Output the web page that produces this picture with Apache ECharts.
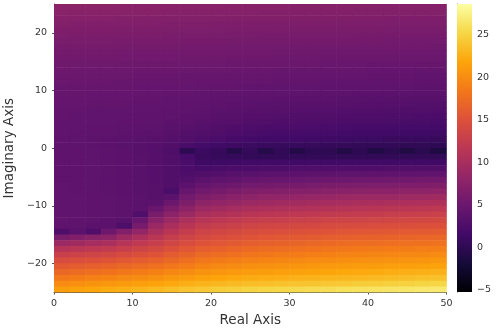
<!DOCTYPE html>
<html>
<head>
<meta charset="utf-8">
<script src="https://cdn.jsdelivr.net/npm/echarts@6.0.0/dist/echarts.min.js"></script>
<style>
  html, body { margin: 0; padding: 0; background: #ffffff; }
  #chart { width: 501px; height: 334px; }
</style>
</head>
<body>
<div id="chart"></div>
<script>
// Cell centres of the sampled grid (real part: 2-unit columns, imaginary part: 1-unit rows, top to bottom)
const realCenters = [1, 3, 5, 7, 9, 11, 13, 15, 17, 19, 21, 23, 25, 27, 29, 31, 33, 35, 37, 39, 41, 43, 45, 47, 49];
const imagCenters = [24.5, 23.5, 22.5, 21.5, 20.5, 19.5, 18.5, 17.5, 16.5, 15.5, 14.5, 13.5, 12.5, 11.5, 10.5, 9.5, 8.5, 7.5, 6.5, 5.5, 4.5, 3.5, 2.5, 1.5, 0.5,
                     -0.5, -1.5, -2.5, -3.5, -4.5, -5.5, -6.5, -7.5, -8.5, -9.5, -10.5, -11.5, -12.5, -13.5, -14.5, -15.5, -16.5, -17.5, -18.5, -19.5, -20.5, -21.5, -22.5, -23.5, -24.5];

// log-magnitude values, one row per imaginary centre, one column per real centre
const magnitude = [
  [7.6,7.6,7.6,7.6,7.5,7.5,7.5, 7.5,7.4,7.4,7.4,7.3,7.3, 7.3,7.3,7.2,7.2,7.2,7.2, 7.2,7.2,7.1,7.1,7.1,7.1],
  [7.4,7.3,7.3,7.3,7.3,7.3,7.3, 7.2,7.2,7.2,7.1,7.1,7.1, 7.0,7.0,7.0,7.0,7.0,7.0, 6.9,6.9,6.9,6.9,6.9,6.9],
  [7.1,7.1,7.1,7.1,7.0,7.0,7.0, 7.0,6.9,6.9,6.9,6.8,6.8, 6.8,6.8,6.7,6.7,6.7,6.7, 6.7,6.7,6.6,6.6,6.6,6.6],
  [6.9,6.8,6.8,6.8,6.8,6.8,6.8, 6.7,6.7,6.7,6.6,6.6,6.6, 6.5,6.5,6.5,6.5,6.5,6.5, 6.4,6.4,6.4,6.4,6.4,6.4],
  [6.6,6.6,6.6,6.6,6.5,6.5,6.5, 6.5,6.4,6.4,6.4,6.3,6.3, 6.3,6.3,6.2,6.2,6.2,6.2, 6.2,6.2,6.1,6.1,6.1,6.1],
  [6.4,6.3,6.3,6.3,6.3,6.3,6.3, 6.2,6.2,6.2,6.1,6.1,6.1, 6.0,6.0,6.0,6.0,6.0,6.0, 5.9,5.9,5.9,5.9,5.9,5.9],
  [6.1,6.1,6.1,6.1,6.0,6.0,6.0, 6.0,5.9,5.9,5.9,5.8,5.8, 5.8,5.8,5.7,5.7,5.7,5.7, 5.7,5.7,5.6,5.6,5.6,5.6],
  [5.9,5.9,5.9,5.9,5.8,5.8,5.8, 5.8,5.7,5.7,5.7,5.6,5.6, 5.6,5.6,5.5,5.5,5.5,5.5, 5.4,5.4,5.4,5.4,5.4,5.3],
  [5.7,5.7,5.7,5.7,5.6,5.6,5.6, 5.6,5.5,5.5,5.5,5.4,5.4, 5.4,5.3,5.3,5.3,5.2,5.2, 5.2,5.2,5.2,5.1,5.1,5.1],
  [5.5,5.5,5.5,5.5,5.4,5.4,5.4, 5.4,5.3,5.3,5.3,5.2,5.2, 5.2,5.1,5.1,5.1,5.0,5.0, 5.0,5.0,4.9,4.9,4.9,4.9],
  [5.3,5.3,5.3,5.3,5.2,5.2,5.2, 5.2,5.1,5.1,5.1,5.0,5.0, 5.0,4.9,4.9,4.9,4.8,4.8, 4.8,4.7,4.7,4.7,4.6,4.6],
  [5.2,5.1,5.1,5.1,5.1,5.0,5.0, 5.0,4.9,4.9,4.9,4.8,4.8, 4.8,4.7,4.7,4.7,4.6,4.6, 4.6,4.5,4.5,4.5,4.4,4.4],
  [5.0,5.0,4.9,4.9,4.9,4.8,4.8, 4.8,4.7,4.7,4.7,4.6,4.6, 4.6,4.5,4.5,4.5,4.4,4.4, 4.4,4.3,4.3,4.3,4.2,4.2],
  [4.9,4.8,4.8,4.8,4.7,4.7,4.7, 4.6,4.6,4.5,4.5,4.4,4.4, 4.4,4.3,4.3,4.3,4.2,4.2, 4.2,4.1,4.1,4.1,4.0,4.0],
  [4.7,4.7,4.6,4.6,4.6,4.5,4.5, 4.5,4.4,4.4,4.3,4.3,4.2, 4.2,4.2,4.1,4.1,4.0,4.0, 4.0,3.9,3.9,3.9,3.8,3.8],
  [4.6,4.6,4.5,4.5,4.5,4.4,4.4, 4.3,4.3,4.2,4.1,4.1,4.0, 4.0,3.9,3.9,3.8,3.8,3.8, 3.7,3.7,3.7,3.6,3.6,3.6],
  [4.5,4.5,4.4,4.4,4.4,4.3,4.3, 4.2,4.1,4.1,4.0,3.9,3.8, 3.8,3.7,3.7,3.6,3.6,3.5, 3.5,3.4,3.4,3.4,3.3,3.3],
  [4.4,4.4,4.3,4.3,4.3,4.2,4.2, 4.1,4.0,3.9,3.8,3.7,3.6, 3.5,3.5,3.4,3.4,3.3,3.3, 3.2,3.2,3.1,3.1,3.0,3.0],
  [4.3,4.3,4.2,4.2,4.2,4.1,4.1, 4.0,3.9,3.8,3.6,3.5,3.4, 3.3,3.3,3.2,3.1,3.1,3.0, 2.9,2.9,2.9,2.8,2.8,2.7],
  [4.3,4.2,4.2,4.1,4.1,4.0,4.0, 3.9,3.7,3.6,3.4,3.3,3.2, 3.1,3.0,2.9,2.9,2.8,2.7, 2.6,2.6,2.5,2.5,2.4,2.4],
  [4.2,4.2,4.1,4.1,4.0,4.0,3.9, 3.7,3.6,3.4,3.2,3.1,2.9, 2.8,2.7,2.7,2.6,2.5,2.4, 2.3,2.3,2.2,2.1,2.1,2.0],
  [4.2,4.1,4.0,4.0,3.9,3.8,3.8, 3.5,3.3,3.1,2.9,2.7,2.5, 2.4,2.3,2.3,2.2,2.1,2.0, 1.9,1.9,1.8,1.7,1.7,1.6],
  [4.1,4.0,3.9,3.9,3.8,3.7,3.6, 3.3,3.0,2.8,2.6,2.3,2.1, 2.0,1.9,1.9,1.8,1.7,1.6, 1.5,1.5,1.4,1.3,1.3,1.2],
  [4.0,3.9,3.8,3.7,3.6,3.5,3.4, 3.1,2.8,2.5,2.2,1.9,1.6, 1.5,1.4,1.4,1.3,1.2,1.1, 1.0,1.0,0.9,0.8,0.8,0.7],
  [4.0,3.9,3.8,3.7,3.5,3.4,3.2, 2.8,2.1,1.8,1.5,1.2,1.0, 0.9,0.8,0.8,0.7,0.6,0.5, 0.4,0.4,0.3,0.2,0.2,0.1],
  [4.0,4.0,3.9,3.8,3.6,3.4,3.1, 2.6,0.0,1.0,0.7,-0.6,0.5, -0.7,0.3,-0.8,0.1,0.0,-0.9, -0.1,-1.0,-0.2,-1.1,-0.3,-1.2],
  [4.0,4.0,3.9,3.8,3.7,3.5,3.2, 2.8,2.0,0.9,0.7,0.5,0.4, 0.4,0.4,0.3,0.3,0.3,0.3, 0.3,0.3,0.3,0.3,0.3,0.3],
  [4.0,4.0,3.9,3.8,3.7,3.5,3.2, 2.8,2.2,1.2,1.3,1.3,1.4, 1.4,1.4,1.4,1.5,1.5,1.5, 1.5,1.5,1.5,1.5,1.5,1.5],
  [4.0,4.0,3.9,3.8,3.7,3.5,3.2, 2.8,2.3,2.0,2.1,2.3,2.4, 2.5,2.5,2.6,2.6,2.7,2.7, 2.7,2.7,2.8,2.8,2.8,2.8],
  [4.0,4.0,3.9,3.8,3.7,3.5,3.2, 2.8,2.5,2.8,3.0,3.3,3.5, 3.6,3.6,3.7,3.8,3.8,3.9, 3.9,4.0,4.0,4.0,4.1,4.1],
  [4.0,4.0,3.9,3.8,3.7,3.5,3.2, 2.8,3.0,3.6,3.9,4.2,4.5, 4.6,4.7,4.8,4.9,5.0,5.1, 5.2,5.2,5.3,5.3,5.4,5.4],
  [4.1,4.0,3.9,3.8,3.7,3.5,3.3, 2.9,3.7,4.5,4.9,5.2,5.6, 5.7,5.8,5.9,6.1,6.2,6.3, 6.4,6.4,6.5,6.6,6.6,6.7],
  [4.1,4.0,3.9,3.8,3.7,3.5,3.3, 2.2,4.6,5.5,5.9,6.3,6.7, 6.8,7.0,7.1,7.2,7.4,7.5, 7.6,7.7,7.7,7.8,7.9,8.0],
  [4.1,4.1,4.0,3.9,3.8,3.6,3.4, 3.6,5.6,6.6,7.0,7.5,7.9, 8.1,8.2,8.4,8.5,8.7,8.8, 8.9,9.0,9.0,9.1,9.2,9.3],
  [4.1,4.1,4.0,3.9,3.8,3.6, 3.6,5.0,6.5,7.8, 8.2,8.6,9.0, 9.2,9.3,9.5,9.7,9.8,10.0, 10.1,10.2,10.3,10.4,10.5,10.6],
  [4.1,4.1,4.0,3.9,3.8,3.7, 4.8,6.3,7.7,9.0, 9.4,9.8,10.2, 10.4,10.5,10.7,10.9,11.0,11.2, 11.3,11.4,11.5,11.6,11.7,11.8],
  [4.1,4.1,4.0,3.9,3.8, 2.6, 6.2,7.7,9.0,10.2, 10.6,11.0,11.4, 11.6,11.7,11.9,12.0,12.2,12.3, 12.4,12.5,12.7,12.8,12.9,13.0],
  [4.1,4.0,3.9,3.7, 3.5,4.8, 7.5,9.0,10.3,11.3, 11.7,12.1,12.5, 12.7,12.8,13.0,13.1,13.3,13.4, 13.5,13.6,13.7,13.8,13.9,14.0],
  [4.0,3.9,3.7, 3.6,2.5,6.0, 8.8,10.2,11.4,12.3, 12.7,13.1,13.5, 13.7,13.8,14.0,14.1,14.3,14.4, 14.5,14.6,14.7,14.8,14.9,15.0],
  [2.6,3.6,2.7,5.2,6.8,8.3, 10.1,11.4,12.5,13.3, 13.7,14.0,14.4, 14.6,14.7,14.9,15.1,15.2,15.4, 15.5,15.6,15.7,15.8,15.9,16.0],
  [6.2,6.8,7.4,7.9,9.2,10.4, 11.5,12.6,13.5,14.2, 14.6,14.9,15.3, 15.5,15.7,15.9,16.0,16.2,16.4, 16.5,16.6,16.7,16.8,16.9,17.0],
  [9.0,9.4,9.8,10.2,11.1,12.0, 12.8,13.7,14.5,15.2, 15.5,15.9,16.2, 16.4,16.6,16.8,17.0,17.2,17.4, 17.5,17.6,17.7,17.8,17.9,18.0],
  [11.2,11.5,11.8,12.1,12.8,13.4, 14.0,14.8,15.5,16.2, 16.5,16.9,17.2, 17.4,17.6,17.8,18.0,18.2,18.4, 18.5,18.6,18.7,18.8,18.9,19.0],
  [12.9,13.2,13.5,13.8,14.3,14.8, 15.3,16.0,16.6,17.3, 17.6,17.9,18.2, 18.4,18.6,18.7,18.9,19.1,19.3, 19.4,19.5,19.6,19.7,19.8,19.9],
  [14.4,14.7,15.0,15.3,15.7,16.1, 16.5,17.1,17.7,18.3, 18.6,18.9,19.2, 19.4,19.5,19.7,19.9,20.0,20.2, 20.3,20.4,20.5,20.6,20.7,20.8],
  [15.8,16.1,16.4,16.7,17.1,17.4, 17.8,18.3,18.8,19.4, 19.7,19.9,20.2, 20.4,20.5,20.7,20.8,21.0,21.1, 21.2,21.3,21.4,21.5,21.6,21.7],
  [17.1,17.4,17.7,18.0,18.4,18.7, 19.1,19.6,20.0,20.5, 20.7,21.0,21.2, 21.3,21.5,21.6,21.7,21.9,22.0, 22.1,22.2,22.4,22.5,22.6,22.7],
  [18.5,18.8,19.1,19.4,19.7,20.0, 20.4,20.8,21.2,21.6, 21.8,22.1,22.3, 22.4,22.5,22.7,22.8,22.9,23.0, 23.1,23.3,23.4,23.5,23.7,23.8],
  [19.9,20.2,20.5,20.8,21.1,21.4, 21.7,22.1,22.5,22.8, 23.0,23.3,23.5, 23.6,23.8,23.9,24.0,24.2,24.3, 24.5,24.6,24.8,24.9,25.1,25.2],
  [21.3,21.6,21.9,22.2,22.5,22.8, 23.1,23.5,23.9,24.2, 24.5,24.7,25.0, 25.2,25.3,25.5,25.7,25.8,26.0, 26.1,26.3,26.4,26.5,26.7,26.8]
];

// Axis ticks and colour-scale limits
const realTicks = [0, 10, 20, 30, 40, 50];
const imagTicks = [-20, -10, 0, 10, 20];
const colorTicks = [-5, 0, 5, 10, 15, 20, 25];
const colorMin = -5.24;
const colorMax = 28.65;

// inferno colour map, low to high
const inferno = ['#000004', '#160b39', '#420a68', '#6a176e', '#932667', '#bc3754',
                 '#dd513a', '#f37819', '#fca50a', '#f6d746', '#fcffa4'];

const cells = [];
magnitude.forEach((row, i) => {
  row.forEach((v, j) => cells.push([realCenters[j], imagCenters[i], v]));
});
const cellW = realCenters[1] - realCenters[0];
const cellH = imagCenters[0] - imagCenters[1];

const minus = v => String(v).replace('-', '\u2212');
const textColor = '#333333';
const axisColor = '#555555';
const font = 'DejaVu Sans';

const chart = echarts.init(document.getElementById('chart'), null, { renderer: 'canvas' });
chart.setOption({
  animation: false,
  backgroundColor: '#ffffff',
  textStyle: { fontFamily: font },
  grid: [
    { left: 54, top: 4, width: 392.5, height: 288.5, outerBoundsMode: 'none', containLabel: false },
    { left: 457, top: 4, width: 15, height: 288, outerBoundsMode: 'none', containLabel: false }
  ],
  xAxis: [
    {
      gridIndex: 0, type: 'value', min: 0, max: 50,
      name: 'Real Axis', nameLocation: 'middle', nameGap: 19,
      nameTextStyle: { fontSize: 13.5, color: textColor, fontFamily: font },
      axisLine: { show: true, onZero: false, lineStyle: { color: axisColor, width: 1 } },
      axisTick: { show: true, inside: false, length: 2, customValues: realTicks, lineStyle: { color: axisColor } },
      axisLabel: { fontSize: 9.5, color: textColor, margin: 6, customValues: realTicks, fontFamily: font },
      splitLine: { show: false },
      splitArea: { show: false }
    },
    { gridIndex: 1, type: 'value', min: 0, max: 1, show: false }
  ],
  yAxis: [
    {
      gridIndex: 0, type: 'value', min: -25, max: 25,
      name: 'Imaginary Axis', nameLocation: 'middle', nameGap: 30,
      nameTextStyle: { fontSize: 13.5, color: textColor, fontFamily: font },
      axisLine: { show: true, onZero: false, lineStyle: { color: axisColor, width: 1 } },
      axisTick: { show: true, inside: false, length: 2, customValues: imagTicks, lineStyle: { color: axisColor } },
      axisLabel: { fontSize: 9.5, color: textColor, margin: 7, customValues: imagTicks, formatter: minus, fontFamily: font },
      splitLine: { show: false },
      splitArea: { show: false }
    },
    {
      gridIndex: 1, type: 'value', min: colorMin, max: colorMax, position: 'right',
      axisLine: { show: true, lineStyle: { color: axisColor, width: 1 } },
      axisTick: { show: true, inside: false, length: 3, customValues: colorTicks, lineStyle: { color: axisColor } },
      axisLabel: { fontSize: 9.5, color: textColor, margin: 5, customValues: colorTicks, formatter: minus, fontFamily: font },
      splitLine: { show: false }
    }
  ],
  visualMap: {
    type: 'continuous', show: false, seriesIndex: 0, dimension: 2,
    min: colorMin, max: colorMax, inRange: { color: inferno }
  },
  series: [
    {
      type: 'custom', xAxisIndex: 0, yAxisIndex: 0, clip: true, silent: true, z: 1,
      encode: { x: 0, y: 1 },
      data: cells,
      renderItem: (params, api) => {
        const x = api.value(0), y = api.value(1);
        const p0 = api.coord([x - cellW / 2, y + cellH / 2]);
        const p1 = api.coord([x + cellW / 2, y - cellH / 2]);
        return {
          type: 'rect',
          shape: { x: p0[0] - 0.3, y: p0[1] - 0.3, width: p1[0] - p0[0] + 0.6, height: p1[1] - p0[1] + 0.6 },
          style: { fill: api.visual('color'), stroke: null }
        };
      }
    },
    {
      type: 'custom', xAxisIndex: 1, yAxisIndex: 1, silent: true, z: 1,
      data: [[0, colorMin, 1, colorMax]],
      renderItem: (params, api) => {
        const p0 = api.coord([api.value(0), api.value(3)]);
        const p1 = api.coord([api.value(2), api.value(1)]);
        const stops = inferno.map((c, i) => ({ offset: 1 - i / (inferno.length - 1), color: c })).reverse();
        return {
          type: 'rect',
          shape: { x: p0[0], y: p0[1], width: p1[0] - p0[0], height: p1[1] - p0[1] },
          style: { fill: new echarts.graphic.LinearGradient(0, 0, 0, 1, stops) }
        };
      }
    }
  ]
});
</script>
</body>
</html>
